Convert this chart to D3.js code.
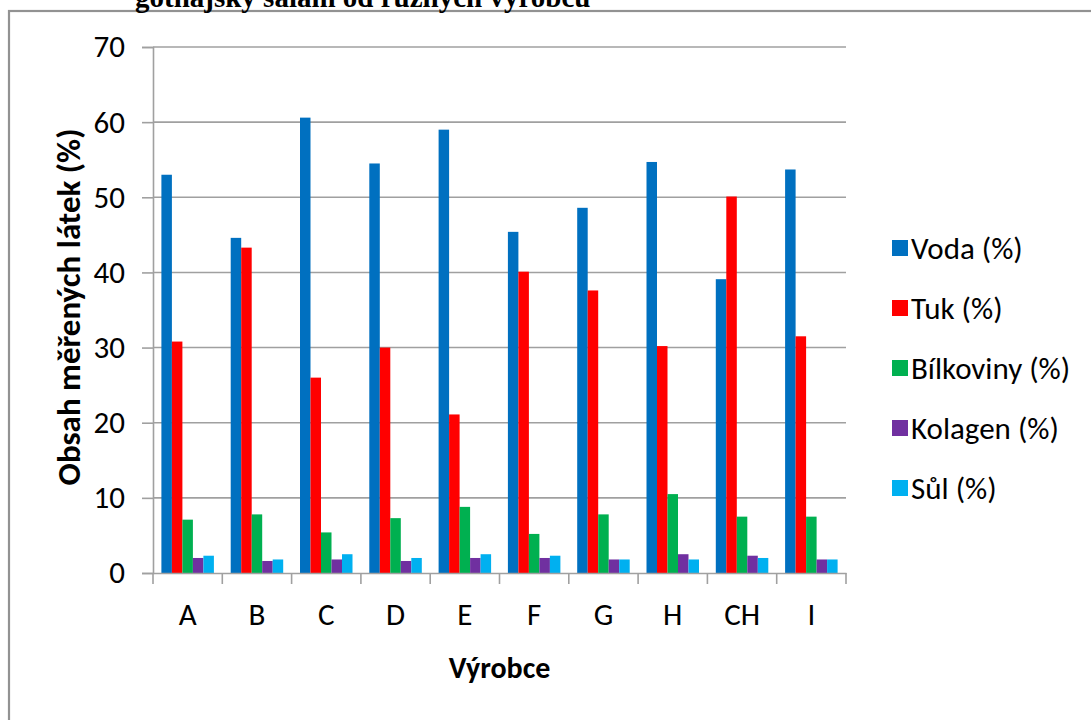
<!DOCTYPE html>
<html>
<head>
<meta charset="utf-8">
<script src="https://cdn.jsdelivr.net/npm/d3@7"></script>
<style>
  html, body { margin: 0; padding: 0; background: #ffffff; }
  svg { display: block; }
  text { font-family: Carlito, "Open Sans", sans-serif; fill: #000; }
</style>
</head>
<body>
<svg id="chart" width="1091" height="720"></svg>
<script>
// Producers (výrobci) of gothajský salám
const categories = ["A", "B", "C", "D", "E", "F", "G", "H", "CH", "I"];

// Measured contents in %
const voda      = [53.0, 44.6, 60.6, 54.5, 59.0, 45.4, 48.6, 54.7, 39.1, 53.7];
const tuk       = [30.8, 43.3, 26.0, 30.0, 21.1, 40.1, 37.6, 30.2, 50.1, 31.5];
const bilkoviny = [7.1, 7.8, 5.4, 7.3, 8.8, 5.2, 7.8, 10.5, 7.5, 7.5];
const kolagen   = [2.0, 1.6, 1.8, 1.6, 2.0, 2.0, 1.8, 2.5, 2.3, 1.8];
const sul       = [2.3, 1.8, 2.5, 2.0, 2.5, 2.3, 1.8, 1.8, 2.0, 1.8];

const seriesNames  = ["Voda (%)", "Tuk (%)", "Bílkoviny (%)", "Kolagen (%)", "Sůl (%)"];
const seriesValues = [voda, tuk, bilkoviny, kolagen, sul];
const seriesColors = ["#0070C0", "#FF0000", "#00B050", "#7030A0", "#00B0F0"];

const yTicks = [0, 10, 20, 30, 40, 50, 60, 70];

const svg = d3.select("#chart");

// Outer chart frame
svg.append("rect")
  .attr("x", 9).attr("y", 11)
  .attr("width", 1200).attr("height", 800)
  .attr("fill", "none")
  .attr("stroke", "#929292")
  .attr("stroke-width", 2.2);

// Heading above the frame (runs off the top of the page)
svg.append("text")
  .attr("x", 135).attr("y", 7)
  .style("font-family", "'Liberation Serif', 'Times New Roman', serif")
  .style("font-weight", "bold")
  .style("font-size", "29px")
  .text("gothajský salám od různých výrobců");

const plot = { left: 153, right: 846, top: 47, bottom: 573 };

const x0 = d3.scaleBand()
  .domain(categories)
  .range([plot.left, plot.right])
  .paddingInner(0).paddingOuter(0);

const x1 = d3.scaleBand()
  .domain(seriesNames)
  .range([0, x0.bandwidth()])
  .paddingInner(0).paddingOuter(0.8);

const y = d3.scaleLinear()
  .domain([0, 70])
  .range([plot.bottom, plot.top]);

// Horizontal gridlines
svg.append("g")
  .selectAll("line")
  .data(yTicks.filter(d => d > 0))
  .join("line")
  .attr("x1", plot.left).attr("x2", plot.right)
  .attr("y1", d => y(d)).attr("y2", d => y(d))
  .attr("stroke", "#A0A0A0")
  .attr("stroke-width", 1.6);

// Bars
const rows = categories.map((c, i) => ({
  cat: c,
  vals: seriesNames.map((s, k) => ({ s, k, v: seriesValues[k][i] }))
}));

svg.append("g")
  .selectAll("g")
  .data(rows)
  .join("g")
  .attr("transform", d => `translate(${x0(d.cat)},0)`)
  .selectAll("rect")
  .data(d => d.vals)
  .join("rect")
  .attr("x", d => x1(d.s))
  .attr("width", x1.bandwidth())
  .attr("y", d => y(d.v))
  .attr("height", d => y(0) - y(d.v))
  .attr("fill", d => seriesColors[d.k]);

// Y axis
const yAxis = d3.axisLeft(y)
  .tickValues(yTicks)
  .tickSize(11)
  .tickPadding(17)
  .tickFormat(d3.format("d"));

const gy = svg.append("g")
  .attr("transform", `translate(${plot.left},0)`)
  .call(yAxis);
gy.select(".domain").attr("stroke", "#A0A0A0").attr("stroke-width", 1.6);
gy.selectAll(".tick line").attr("stroke", "#A0A0A0").attr("stroke-width", 1.6);
gy.selectAll(".tick text")
  .style("font-family", "Carlito, 'Open Sans', sans-serif")
  .style("font-size", "31px")
  .attr("fill", "#000");

// X axis: tick marks at category boundaries, labels centered in each band
const xAxis = d3.axisBottom(x0).tickSize(0).tickPadding(0);
const gx = svg.append("g")
  .attr("transform", `translate(0,${plot.bottom})`)
  .call(xAxis);
gx.select(".domain").attr("stroke", "#A0A0A0").attr("stroke-width", 1.6);
gx.selectAll(".tick text")
  .attr("y", 52)
  .attr("dy", null)
  .style("font-family", "Carlito, 'Open Sans', sans-serif")
  .style("font-size", "31px")
  .attr("fill", "#000");

const boundaries = categories.map(c => x0(c)).concat([plot.right]);
gx.append("g")
  .selectAll("line")
  .data(boundaries)
  .join("line")
  .attr("x1", d => d).attr("x2", d => d)
  .attr("y1", 0).attr("y2", 11)
  .attr("stroke", "#A0A0A0")
  .attr("stroke-width", 1.6);

// Axis titles
svg.append("text")
  .attr("x", (plot.left + plot.right) / 2)
  .attr("y", 678)
  .attr("text-anchor", "middle")
  .style("font-weight", "bold")
  .style("font-size", "30px")
  .text("Výrobce");

svg.append("text")
  .attr("transform", "translate(80,307) rotate(-90)")
  .attr("text-anchor", "middle")
  .style("font-weight", "bold")
  .style("font-size", "33px")
  .text("Obsah měřených látek (%)");

// Legend
const legend = svg.append("g")
  .selectAll("g")
  .data(seriesNames)
  .join("g")
  .attr("transform", (d, i) => `translate(892,${248 + i * 60})`);

legend.append("rect")
  .attr("x", 0).attr("y", -8)
  .attr("width", 16).attr("height", 16)
  .attr("fill", (d, i) => seriesColors[i]);

legend.append("text")
  .attr("x", 19).attr("y", 0)
  .attr("dy", "0.36em")
  .style("font-size", "31px")
  .text(d => d);
</script>
</body>
</html>
